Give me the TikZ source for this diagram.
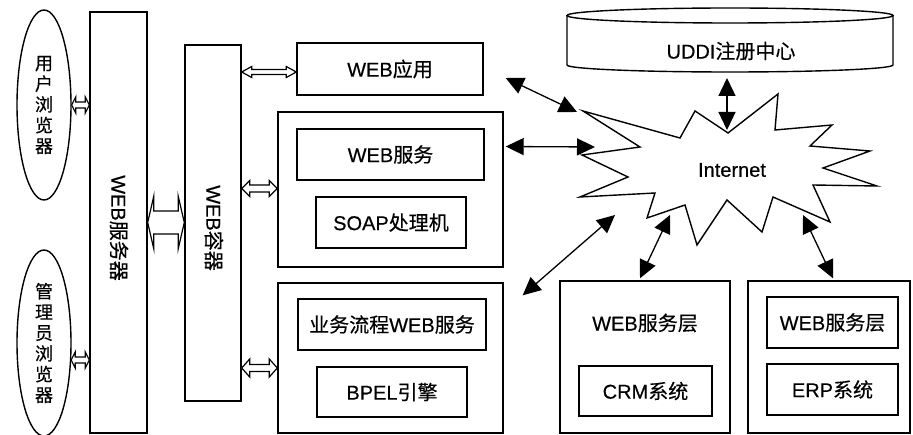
\documentclass[tikz,border=0pt]{standalone}
\usepackage{fontspec}
\setmainfont{Noto Sans CJK SC}[FakeBold=0.4]
\newfontfamily\lat{Liberation Sans}[FakeBold=0.4]
\usetikzlibrary{arrows.meta,shapes.geometric,calc}

% hollow two-headed block arrow between two tips on one horizontal line
% #1 left tip, #2 right tip, #3 head length, #4 head half-height, #5 shaft half-height
\newcommand\hollowpair[5]{%
  \draw[hollow] (#1) -- ($(#1)+(#3,-#4)$) -- ($(#1)+(#3,-#5)$)
    -- ($(#2)+(-#3,-#5)$) -- ($(#2)+(-#3,-#4)$) -- (#2)
    -- ($(#2)+(-#3,#4)$) -- ($(#2)+(-#3,#5)$)
    -- ($(#1)+(#3,#5)$) -- ($(#1)+(#3,#4)$) -- cycle;}

\begin{document}
\begin{tikzpicture}[x=1pt,y=-1pt,
  line width=1.4pt,
  lbl/.style={font=\fontsize{20}{23}\selectfont},
  box/.style={draw, rectangle, inner sep=0pt, lbl},
  oval/.style={draw, ellipse, inner sep=0pt, align=center,
    font=\fontsize{18}{20.7}\selectfont},
  hollow/.style={draw, line width=1.2pt, fill=white, line join=miter},
  link/.style={{Triangle[length=18pt,width=17pt]}-{Triangle[length=18pt,width=17pt]},
    line width=1.3pt},
  burst/.style={draw, line width=1.4pt, line join=miter, fill=white}
]
\useasboundingbox (0,0) rectangle (913,435);

% browsers
\node[oval, minimum width=54pt, minimum height=190pt] (u1) at (44,105)
  {用\\户\\浏\\览\\器};
\node[oval, minimum width=54pt, minimum height=186pt] (u2) at (44,343)
  {管\\理\\员\\浏\\览\\器};

% web server and web container columns
\node[box, minimum width=57pt, minimum height=421pt] (srv) at (118.5,222.5) {};
\node[lbl, rotate=-90] at (119,228) {{\lat WEB}服务器};
\node[box, minimum width=56pt, minimum height=356pt] (ctr) at (213,223) {};
\node[lbl, rotate=-90] at (214,228) {{\lat WEB}容器};

% application side
\node[box, minimum width=186pt, minimum height=52pt] (app) at (390,69) {{\lat WEB}应用};
\node[box, minimum width=225pt, minimum height=155pt] (ws) at (390.5,189.5) {};
\node[box, minimum width=187pt, minimum height=51pt] (wsin) at (390.5,154.5) {{\lat WEB}服务};
\node[box, minimum width=150pt, minimum height=51pt] (soap) at (391,222.5) {{\lat SOAP}处理机};
\node[box, minimum width=225pt, minimum height=150pt] (bp) at (390.5,358) {};
\node[box, minimum width=188pt, minimum height=51pt] (bpws) at (392,324.5) {业务流程{\lat WEB}服务};
\node[box, minimum width=150pt, minimum height=50pt] (bpel) at (392,392) {{\lat BPEL}引擎};

% partner systems
\node[box, minimum width=170pt, minimum height=152pt] (crm) at (645,357) {};
\node[lbl] (crmws) at (645,323) {{\lat WEB}服务层};
\node[box, minimum width=133pt, minimum height=50pt] (crmsys) at (645.5,391) {{\lat CRM}系统};
\node[box, minimum width=162pt, minimum height=152pt] (erp) at (829,357) {};
\node[box, minimum width=131pt, minimum height=51pt] (erpws) at (832.5,322.5) {{\lat WEB}服务层};
\node[box, minimum width=131pt, minimum height=51pt] (erpsys) at (832.5,389.5) {{\lat ERP}系统};

% UDDI registry drum
\draw (730,15.5) ellipse [x radius=163, y radius=7.5];
\draw (567,15.5) -- (567,65) arc[start angle=180, end angle=0, x radius=163, y radius=7] -- (893,15.5);
\node[lbl] (uddi) at (731,51) {{\lat UDDI}注册中心};
\coordinate (uddib) at (727,78);

% Internet burst
\coordinate (bA) at (583,111); \coordinate (bB) at (680,138);
\coordinate (bC) at (695,111); \coordinate (bD) at (728,133);
\coordinate (bE) at (778,94);  \coordinate (bF) at (775,130);
\coordinate (bG) at (832,125); \coordinate (bH) at (810,146);
\coordinate (bI) at (870,151); \coordinate (bJ) at (823,168);
\coordinate (bK) at (877,186); \coordinate (bL) at (813,185);
\coordinate (bM) at (830,222); \coordinate (bN) at (773,197);
\coordinate (bO) at (762,232); \coordinate (bP) at (727,200);
\coordinate (bQ) at (697,245); \coordinate (bR) at (685,205);
\coordinate (bS) at (647,218); \coordinate (bT) at (655,193);
\coordinate (bU) at (580,197); \coordinate (bV) at (628,177);
\coordinate (bW) at (582,155); \coordinate (bX) at (640,147);
\draw[burst] (bA) -- (bB) -- (bC) -- (bD) -- (bE) -- (bF) -- (bG) -- (bH)
  -- (bI) -- (bJ) -- (bK) -- (bL) -- (bM) -- (bN) -- (bO) -- (bP) -- (bQ)
  -- (bR) -- (bS) -- (bT) -- (bU) -- (bV) -- (bW) -- (bX) -- cycle;
\node[font=\lat\fontsize{20}{24}\selectfont] (net) at (732,170) {Internet};

% hollow block arrows
\coordinate (h1a) at (u1.east);
\coordinate (h1b) at (srv.west |- u1.east);
\hollowpair{h1a}{h1b}{4}{8}{3}
\coordinate (h2a) at ($(u2.east)+(-0.5,17)$);
\coordinate (h2b) at (srv.west |- h2a);
\hollowpair{h2a}{h2b}{4}{8}{3}
\coordinate (h3a) at (srv.east);
\coordinate (h3b) at (ctr.west |- srv.east);
\hollowpair{h3a}{h3b}{6}{26}{11.5}
\coordinate (h4b) at ($(app.west)+(0,3)$);
\coordinate (h4a) at (ctr.east |- h4b);
\hollowpair{h4a}{h4b}{10}{5.5}{2.5}
\coordinate (h5b) at ($(ws.west)+(0,-1)$);
\coordinate (h5a) at (ctr.east |- h5b);
\hollowpair{h5a}{h5b}{8}{8}{3.5}
\coordinate (h6b) at ($(bp.west)+(0,10)$);
\coordinate (h6a) at (ctr.east |- h6b);
\hollowpair{h6a}{h6b}{8}{9}{3.5}

% network links
\coordinate (appo) at ($(app.east)+(22,9)$);
\coordinate (neta) at ($(bA)+(-6,1)$);
\draw[link] (appo) -- (neta);
\coordinate (wso) at ($(ws.east)+(2,-43)$);
\coordinate (netw) at (595,147);
\draw[link] (wso) -- (netw);
\coordinate (bpo) at ($(bp.north east)+(19,13)$);
\coordinate (netb) at (615,215);
\draw[link] (bpo) -- (netb);
\coordinate (crmo) at ($(crm.north)+(-5,-2)$);
\coordinate (netc) at (670,215);
\draw[link] (crmo) -- (netc);
\coordinate (erpo) at ($(erp.north)+(4,-2)$);
\coordinate (nete) at (803,215);
\draw[link] (erpo) -- (nete);
\coordinate (netu) at (727,130);
\draw[link] (uddib) -- (netu);
\end{tikzpicture}
\end{document}
